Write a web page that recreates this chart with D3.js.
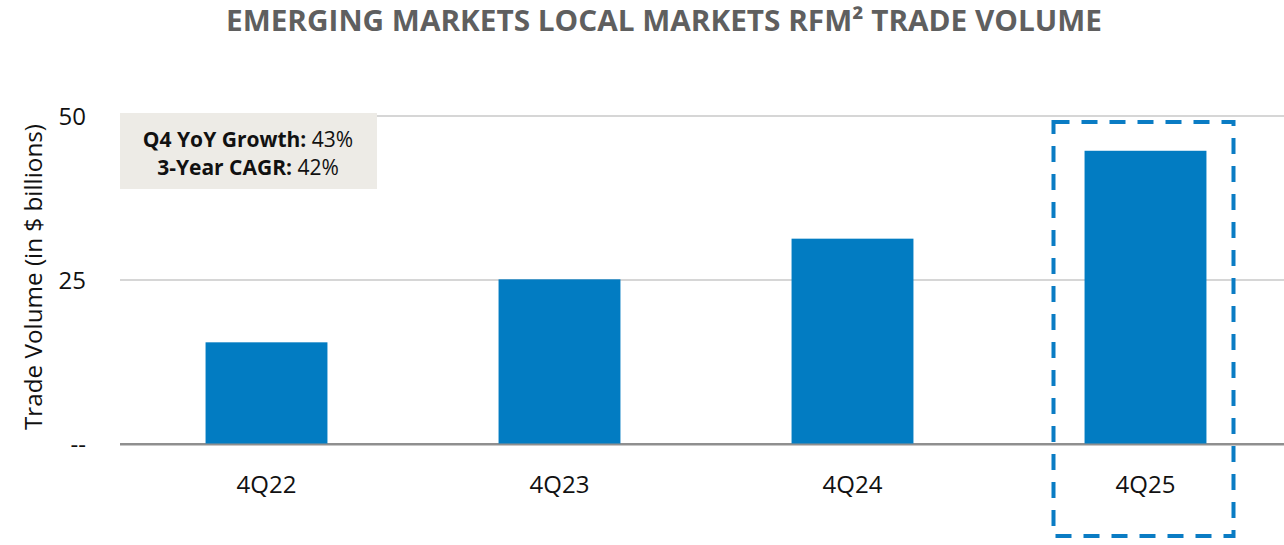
<!DOCTYPE html>
<html>
<head>
<meta charset="utf-8">
<script src="https://cdn.jsdelivr.net/npm/d3@7"></script>
<style>
  body { margin: 0; background: #fff; }
  text { font-family: "Open Sans", "Noto Sans", sans-serif; }
</style>
</head>
<body>
<script>
// Chart data
var quarters = ["4Q22", "4Q23", "4Q24", "4Q25"];
var volumes = [15.5, 25.1, 31.3, 44.7];
var yTicks = [0, 25, 50];
var yTickLabels = ["--", "25", "50"];
var noteLabels = ["Q4 YoY Growth:", "3-Year CAGR:"];
var noteValues = ["43%", "42%"];

var width = 1284, height = 545;
var margin = {top: 116, left: 120, bottom: 101};

const svg = d3.select("body")
    .append("svg")
    .attr("width", width)
    .attr("height", height);

//Scales
var x = d3.scaleBand()
    .domain(quarters)
    .range([margin.left, 1292])
    .paddingInner(0.584)
    .paddingOuter(0.292);

var y = d3.scaleLinear()
    .domain([0, 50])
    .range([height - margin.bottom, margin.top]);

//Title
svg.append("text")
    .attr("x", 664)
    .attr("y", 31)
    .attr("text-anchor", "middle")
    .attr("font-size", 29)
    .attr("font-weight", "bold")
    .attr("fill", "#5f5f5f")
    .attr("textLength", 876)
    .attr("lengthAdjust", "spacingAndGlyphs")
    .text("EMERGING MARKETS LOCAL MARKETS RFM\u00B2 TRADE VOLUME");

//Gridlines
svg.append("g")
    .selectAll("line")
    .data(yTicks)
    .join("line")
    .attr("x1", margin.left)
    .attr("x2", width)
    .attr("y1", d => y(d))
    .attr("y2", d => y(d))
    .attr("stroke", d => d === 0 ? "#8f8f8f" : "#c8c8c8")
    .attr("stroke-width", d => d === 0 ? 2 : 1.5);

//Y tick labels
svg.append("g")
    .selectAll("text")
    .data(yTicks)
    .join("text")
    .attr("x", 86)
    .attr("y", d => y(d) + 9)
    .attr("text-anchor", "end")
    .attr("font-size", 24)
    .attr("fill", "#111")
    .text((d, i) => yTickLabels[i]);

//Y axis title
svg.append("text")
    .attr("transform", "translate(42,277) rotate(-90)")
    .attr("text-anchor", "middle")
    .attr("font-size", 23)
    .attr("fill", "#111")
    .attr("textLength", 306)
    .attr("lengthAdjust", "spacingAndGlyphs")
    .text("Trade Volume (in $ billions)");

//Bars
svg.append("g")
    .selectAll("rect")
    .data(volumes)
    .join("rect")
    .attr("x", (d, i) => x(quarters[i]))
    .attr("width", x.bandwidth())
    .attr("y", d => y(d))
    .attr("height", d => y(0) - y(d))
    .attr("fill", "#027cc2");

//Redraw baseline over bars
svg.append("line")
    .attr("x1", margin.left).attr("x2", width)
    .attr("y1", y(0) + 0.5).attr("y2", y(0) + 0.5)
    .attr("stroke", "#8f8f8f").attr("stroke-width", 2);

//Category labels
svg.append("g")
    .selectAll("text")
    .data(quarters)
    .join("text")
    .attr("x", d => x(d) + x.bandwidth() / 2)
    .attr("y", y(0) + 49)
    .attr("text-anchor", "middle")
    .attr("font-size", 24)
    .attr("fill", "#111")
    .text(d => d);

//Annotation box
svg.append("rect")
    .attr("x", margin.left)
    .attr("y", 113)
    .attr("width", 257)
    .attr("height", 76)
    .attr("fill", "#edebe6");

var note = svg.append("g");
noteLabels.forEach(function(lab, i) {
    var t = note.append("text")
        .attr("x", 248)
        .attr("y", 147 + i * 28)
        .attr("text-anchor", "middle")
        .attr("font-size", 21)
        .attr("fill", "#111");
    t.append("tspan").attr("font-weight", "bold").text(lab + " ");
    t.append("tspan").text(noteValues[i]);
});

//Dashed highlight around last bar
var last = quarters[quarters.length - 1];
var cx = x(last) + x.bandwidth() / 2;
svg.append("rect")
    .attr("x", cx - 92)
    .attr("y", 122)
    .attr("width", 180)
    .attr("height", 414)
    .attr("fill", "none")
    .attr("stroke", "#0a7cc4")
    .attr("stroke-width", 4)
    .attr("stroke-dasharray", "16,12");
</script>
</body>
</html>
